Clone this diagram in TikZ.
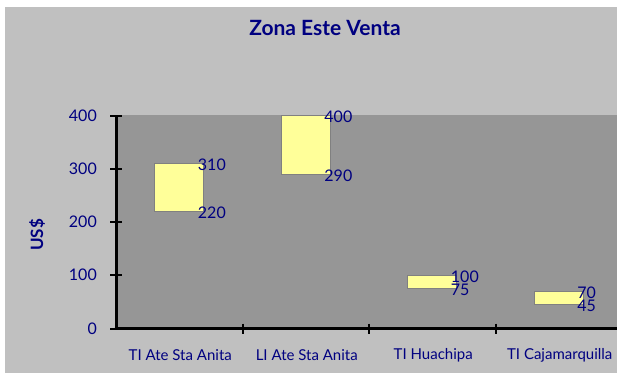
\documentclass[tikz,border=0pt]{standalone}
\usepackage{fontspec}
\setmainfont{Lato}

\definecolor{navy}{RGB}{0,0,128}
\definecolor{chartgray}{RGB}{192,192,192}
\definecolor{plotgray}{RGB}{150,150,150}
\definecolor{barfill}{RGB}{255,255,153}

\begin{document}
\begin{tikzpicture}[x=1pt, y=-1pt, line join=miter,
  axislbl/.style={text=navy, inner sep=0pt, font=\fontsize{16}{16}\selectfont},
  catlbl/.style={text=navy, inner sep=0pt, font=\fontsize{15}{15}\selectfont},
  vallbl/.style={text=navy, inner sep=0pt, anchor=west, font=\fontsize{16}{16}\selectfont},
  bar/.style={fill=barfill, draw=gray, line width=0.8pt},
  axisline/.style={black, line width=3pt},
  tickline/.style={black, line width=2pt}]
  % Parameters
  \pgfmathsetmacro{\yz}{328.5}   % pixel row of value 0
  \pgfmathsetmacro{\ys}{0.5325}  % pixels per US$
  \pgfmathsetmacro{\xo}{116}     % left edge of the plot
  \pgfmathsetmacro{\cw}{126.5}   % width of one category
  \pgfmathsetmacro{\bw}{49}      % width of a bar

  % Background
  \useasboundingbox (0,0) rectangle (617,373);
  \fill[white] (0,0) rectangle (617,373);
  \fill[chartgray] (5,7) rectangle (617,373);
  \fill[plotgray] (\xo,115) rectangle (617,\yz);

  % Title and axis name
  \node[text=navy, font=\bfseries\fontsize{21}{21}\selectfont] (title) at (325,28) {Zona Este Venta};
  \node[text=navy, rotate=90, font=\bfseries\fontsize{17}{17}\selectfont] (unit) at (37,235) {US\$};

  % Axes
  \coordinate (O) at (\xo,\yz);
  \coordinate (ytop) at (\xo,115);
  \coordinate (xend) at (617,\yz);
  \draw[axisline] ([yshift=1.5pt]O) -- (ytop);
  \draw[axisline] ([xshift=-1.5pt]O) -- (xend);

  % Ticks
  \foreach \v in {0,100,...,400}{
    \pgfmathsetmacro{\yy}{\yz-\ys*\v}
    \draw[tickline] (\xo-6,\yy) -- (\xo+6,\yy);
    \node[axislbl, anchor=east] (ytick\v) at (97,\yy) {\v};
  }
  \foreach \k in {1,2,3}
    \draw[tickline] (\xo+\k*\cw,\yz-5) -- (\xo+\k*\cw,\yz+5);

  % Bars: low / high
  \foreach \i/\lo/\hi/\name in {1/220/310/{TI Ate Sta Anita}, 2/290/400/{LI Ate Sta Anita},
                                3/75/100/{TI Huachipa}, 4/45/70/{TI Cajamarquilla}}{
    \pgfmathsetmacro{\xc}{\xo+(\i-0.5)*\cw}
    \coordinate (lo\i) at (\xc-\bw/2,\yz-\ys*\lo);
    \coordinate (hi\i) at (\xc+\bw/2,\yz-\ys*\hi);
    \draw[bar] (lo\i) rectangle (hi\i);
    \node[vallbl] (hilbl\i) at (\xc+\bw/2-6,\yz-\ys*\hi+1.5) {\hi};
    \node[vallbl] (lolbl\i) at (\xc+\bw/2-6,\yz-\ys*\lo+1.5) {\lo};
    \node[catlbl] (cat\i) at (\xc+1,355) {\name};
  }
\end{tikzpicture}
\end{document}
